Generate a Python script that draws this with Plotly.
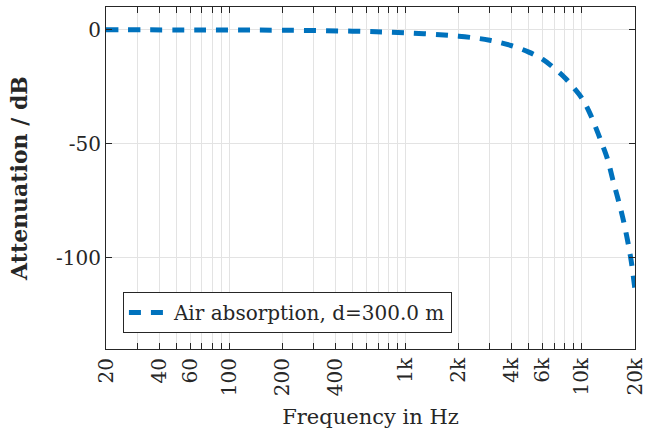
import plotly.graph_objects as go

freq_hz = [20, 50, 100, 200, 500, 1000, 2000, 3000, 4000, 5000, 6000, 7000, 8000,
           9000, 10000, 11000, 12000, 13000, 14000, 15000, 16000, 17000, 18000, 19000, 20000]
atten_db = [0.0, -0.05, -0.1, -0.2, -0.6, -1.3, -2.8, -4.6, -7.0, -9.8, -13.0, -17.0, -21.0,
            -25.5, -30.0, -36.0, -43.0, -50.0, -57.0, -66.0, -74.0, -82.0, -91.0, -101.0, -114.0]

x_labels = {20: "20", 40: "40", 60: "60", 100: "100", 200: "200", 400: "400",
            1000: "1k", 2000: "2k", 4000: "4k", 6000: "6k", 10000: "10k", 20000: "20k"}
grid_vals = [m * d for d in (10, 100, 1000, 10000) for m in range(1, 10)]
grid_vals = [v for v in grid_vals if 20 <= v <= 20000]
tick_text = [x_labels.get(v, "") for v in grid_vals]

font_family = "DejaVu Serif, serif"
txt = "#262626"

fig = go.Figure()
fig.add_trace(go.Scatter(
    x=freq_hz, y=atten_db, mode="lines",
    name="Air absorption, d=300.0 m",
    line=dict(color="#0072BD", width=5, dash="12px,10px", shape="spline"),
))

fig.update_layout(
    width=646, height=431,
    margin=dict(l=106, r=11, t=7, b=82),
    paper_bgcolor="white", plot_bgcolor="white",
    font=dict(family=font_family, size=20, color=txt),
    showlegend=True,
    legend=dict(x=0.032, y=0.047, xanchor="left", yanchor="bottom",
                bgcolor="white", bordercolor=txt, borderwidth=1,
                font=dict(size=20, color=txt),
                itemwidth=40, tracegroupgap=0),
    xaxis=dict(
        type="log", range=[1.30103, 4.30103],
        tickmode="array", tickvals=grid_vals, ticktext=tick_text,
        tickangle=-90, ticklabeloverflow="allow",
        showgrid=True, gridcolor="#e3e3e3", gridwidth=1,
        ticks="inside", ticklen=6, tickcolor=txt,
        showline=True, linecolor=txt, linewidth=1, mirror="ticks",
        zeroline=False, automargin=False,
        title=dict(text="Frequency in Hz", font=dict(size=21), standoff=14),
        tickfont=dict(size=20),
    ),
    yaxis=dict(
        range=[-140, 10],
        tickmode="array", tickvals=[0, -50, -100], ticktext=["0", "-50", "-100"],
        showgrid=True, gridcolor="#e3e3e3", gridwidth=1,
        ticks="inside", ticklen=6, tickcolor=txt,
        showline=True, linecolor=txt, linewidth=1, mirror="ticks",
        zeroline=False, automargin=False,
        title=dict(text="<b>Attenuation / dB</b>", font=dict(size=22), standoff=22),
        tickfont=dict(size=20),
    ),
)

fig.write_html("out.html", config={"displayModeBar": False},
               post_script="document.body.style.margin='0px';")
